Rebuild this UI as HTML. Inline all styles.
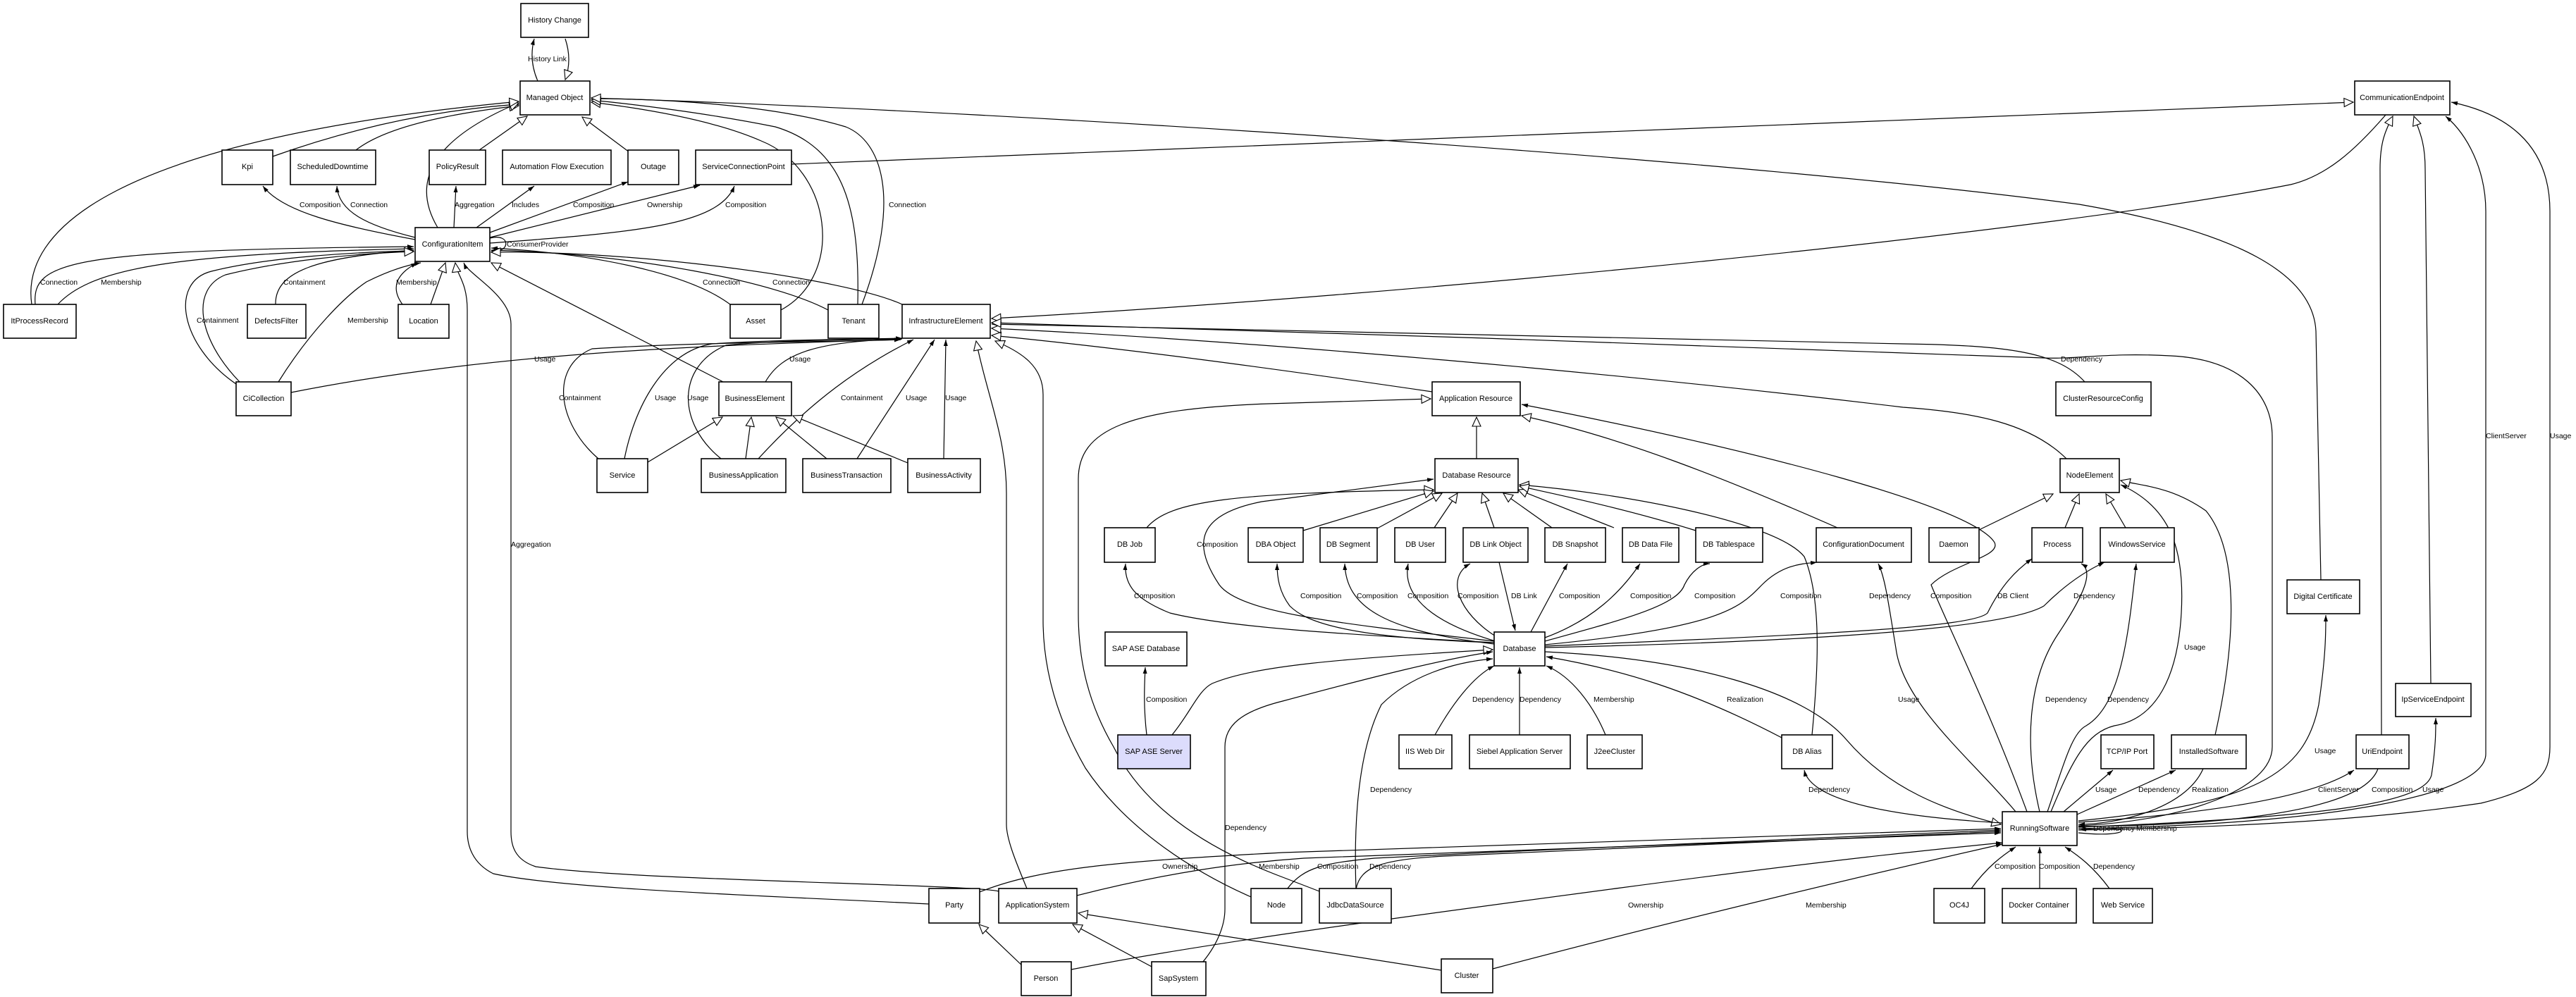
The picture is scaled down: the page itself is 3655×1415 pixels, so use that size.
<!DOCTYPE html>
<html><head><meta charset="utf-8"><style>
html,body{margin:0;padding:0;background:#fff}
svg{display:block}
.n rect{fill:#fff;stroke:#000;stroke-width:1.6}
.n text{font-family:"Liberation Sans",sans-serif;font-size:11px;text-anchor:middle;dominant-baseline:central}
.e path{fill:none;stroke:#000;stroke-width:1.2}
.l text{font-family:"Liberation Sans",sans-serif;font-size:10.5px;dominant-baseline:central}
</style></head><body>
<svg width="3655" height="1415" viewBox="0 0 3655 1415" xmlns="http://www.w3.org/2000/svg">
<defs>
<marker id="f" markerWidth="10" markerHeight="8" refX="9" refY="4" orient="auto" markerUnits="userSpaceOnUse"><path d="M0,1 L9,4 L0,7 z" fill="#000"/></marker>
<marker id="h" markerWidth="16" markerHeight="14" refX="14" refY="7" orient="auto" markerUnits="userSpaceOnUse"><path d="M1,1 L14,7 L1,13 z" fill="#fff" stroke="#000" stroke-width="1.1"/></marker>
</defs>
<g class="e">
<path d="M763 115 Q750 85 758 55" marker-end="url(#f)"/>
<path d="M802 55 Q812 85 802 113" marker-end="url(#h)"/>
<path d="M387 222 Q560 160 736 148" marker-end="url(#h)"/>
<path d="M505 213 Q560 170 736 150" marker-end="url(#h)"/>
<path d="M680 213 L748 165" marker-end="url(#h)"/>
<path d="M893 216 L826 166" marker-end="url(#h)"/>
<path d="M621 323 Q560 220 736 146" marker-end="url(#h)"/>
<path d="M45 432 C30 330 150 200 736 144" marker-end="url(#h)"/>
<path d="M589 340 C480 320 400 300 373 264" marker-end="url(#f)"/>
<path d="M589 337 C520 320 480 300 478 264" marker-end="url(#f)"/>
<path d="M644 323 L647 264" marker-end="url(#f)"/>
<path d="M676 323 L758 264" marker-end="url(#f)"/>
<path d="M695 330 L891 258" marker-end="url(#f)"/>
<path d="M695 337 L993 263" marker-end="url(#f)"/>
<path d="M695 345 C900 330 1020 320 1042 264" marker-end="url(#f)"/>
<path d="M695 338 C725 330 725 360 697 356" marker-end="url(#f)"/>
<path d="M1036 432 C980 390 850 360 697 352" marker-end="url(#f)"/>
<path d="M1175 440 C1100 400 900 360 697 355" marker-end="url(#f)"/>
<path d="M1280 432 C1200 395 900 355 697 358" marker-end="url(#h)"/>
<path d="M1108 440 C1200 390 1180 240 1080 200 C1000 165 880 150 839 145" marker-end="url(#h)"/>
<path d="M1217 432 C1220 300 1200 210 1100 180 C1000 160 900 148 839 142" marker-end="url(#h)"/>
<path d="M1223 432 C1280 280 1250 200 1200 180 C1100 150 950 140 839 140" marker-end="url(#f)"/>
<path d="M3293 823 L3286 470 C3282 390 3180 330 2950 290 C2500 230 1500 160 839 139" marker-end="url(#h)"/>
<path d="M1123 233 L3339 145" marker-end="url(#h)"/>
<path d="M50 432 C45 370 100 355 587 350" marker-end="url(#f)"/>
<path d="M82 432 C130 380 250 360 587 353" marker-end="url(#f)"/>
<path d="M391 432 C390 385 450 365 587 355" marker-end="url(#f)"/>
<path d="M335 545 C255 490 240 400 300 385 C380 365 500 358 587 356" marker-end="url(#f)"/>
<path d="M340 542 C280 480 270 410 320 390 C400 370 500 360 587 357" marker-end="url(#h)"/>
<path d="M395 542 C440 470 490 420 520 400 C560 380 585 375 597 373" marker-end="url(#f)"/>
<path d="M571 432 C555 410 560 390 592 373" marker-end="url(#f)"/>
<path d="M611 432 L632 373" marker-end="url(#h)"/>
<path d="M1318 1283 C1100 1272 800 1262 700 1240 C670 1225 663 1200 663 1180 L663 440 C663 400 648 390 646 373" marker-end="url(#h)"/>
<path d="M1417 1265 C1380 1255 900 1250 760 1230 C730 1220 725 1200 725 1180 L725 460 C725 420 665 390 658 373" marker-end="url(#f)"/>
<path d="M1026 542 L697 373" marker-end="url(#h)"/>
<path d="M413 557 C700 500 1000 490 1278 482" marker-end="url(#f)"/>
<path d="M849 651 C790 600 780 520 840 495 C1000 485 1200 485 1278 482" marker-end="url(#f)"/>
<path d="M886 651 C900 580 940 500 1010 488 C1100 482 1200 482 1280 480" marker-end="url(#f)"/>
<path d="M1023 651 C960 600 960 520 1030 490 C1100 483 1200 482 1280 481" marker-end="url(#f)"/>
<path d="M1086 542 C1110 500 1160 485 1280 481" marker-end="url(#f)"/>
<path d="M1076 651 C1150 570 1220 520 1296 482" marker-end="url(#f)"/>
<path d="M1216 651 L1326 482" marker-end="url(#f)"/>
<path d="M1339 651 L1342 482" marker-end="url(#f)"/>
<path d="M919 656 L1025 592" marker-end="url(#h)"/>
<path d="M1058 651 L1066 592" marker-end="url(#h)"/>
<path d="M1173 651 L1101 592" marker-end="url(#h)"/>
<path d="M1288 657 L1125 590" marker-end="url(#h)"/>
<path d="M1457 1261 C1440 1220 1428 1190 1428 1170 L1428 700 C1428 620 1400 560 1385 484" marker-end="url(#h)"/>
<path d="M1775 1273 C1700 1240 1600 1180 1540 1090 C1500 1020 1480 950 1480 880 L1480 560 C1480 520 1450 500 1412 484" marker-end="url(#h)"/>
<path d="M1872 1265 L1820 1245 C1700 1200 1620 1140 1580 1060 C1545 1000 1530 940 1530 870 L1530 680 C1530 610 1600 580 1800 573 L2030 566" marker-end="url(#h)"/>
<path d="M2032 556 C1800 522 1600 495 1407 476" marker-end="url(#h)"/>
<path d="M2958 542 C2920 500 2850 490 2700 488 C2300 480 1800 468 1407 460" marker-end="url(#f)"/>
<path d="M2932 651 C2880 600 2800 585 2700 578 C2300 530 1800 485 1407 466" marker-end="url(#h)"/>
<path d="M3385 163 C3340 215 3300 250 3250 262 C2900 330 2000 420 1407 452" marker-end="url(#h)"/>
<path d="M2949 1172 C3100 1165 3224 1120 3224 1060 L3224 620 C3224 560 3180 510 3080 505 C2990 500 2950 510 2900 508 C2600 495 1800 470 1407 458" marker-end="url(#h)"/>
<path d="M2095 651 L2095 592" marker-end="url(#h)"/>
<path d="M2876 1152 C2820 1000 2760 880 2740 830 C2770 800 2840 790 2830 770 C2800 720 2500 640 2159 574" marker-end="url(#f)"/>
<path d="M2607 749 C2450 680 2300 620 2159 590" marker-end="url(#h)"/>
<path d="M2571 1043 C2580 950 2585 850 2560 790 C2520 740 2300 700 2156 688" marker-end="url(#h)"/>
<path d="M1627 749 C1660 710 1750 700 2034 695" marker-end="url(#h)"/>
<path d="M2120 910 C1900 885 1760 870 1730 830 C1690 770 1700 730 1790 712 L2034 680" marker-end="url(#f)"/>
<path d="M1849 753 L2034 697" marker-end="url(#h)"/>
<path d="M1954 750 L2046 700" marker-end="url(#h)"/>
<path d="M2035 749 L2068 700" marker-end="url(#h)"/>
<path d="M2120 749 L2103 700" marker-end="url(#h)"/>
<path d="M2202 749 L2133 700" marker-end="url(#h)"/>
<path d="M2290 749 L2154 695" marker-end="url(#h)"/>
<path d="M2406 753 C2300 720 2200 700 2156 690" marker-end="url(#h)"/>
<path d="M2120 912 C1900 900 1740 890 1660 870 C1610 850 1595 830 1597 800" marker-end="url(#f)"/>
<path d="M2120 912 C1900 905 1850 880 1830 860 C1815 840 1812 820 1812 800" marker-end="url(#f)"/>
<path d="M2120 914 C1960 895 1910 860 1908 800" marker-end="url(#f)"/>
<path d="M2122 910 C2020 880 1990 840 1998 800" marker-end="url(#f)"/>
<path d="M2127 798 L2150 895" marker-end="url(#f)"/>
<path d="M2122 903 C2070 870 2050 820 2086 800" marker-end="url(#f)"/>
<path d="M2172 897 L2224 800" marker-end="url(#f)"/>
<path d="M2192 905 C2260 880 2300 840 2327 800" marker-end="url(#f)"/>
<path d="M2192 910 C2300 880 2380 860 2390 830 C2400 810 2415 800 2426 800" marker-end="url(#f)"/>
<path d="M2192 915 C2450 890 2470 860 2500 830 C2530 800 2560 800 2578 798" marker-end="url(#f)"/>
<path d="M2192 917 C2600 900 2800 890 2820 870 C2840 830 2860 810 2883 793" marker-end="url(#f)"/>
<path d="M2192 919 C2600 910 2850 890 2900 860 C2930 830 2960 810 2986 798" marker-end="url(#f)"/>
<path d="M2808 752 L2913 701" marker-end="url(#h)"/>
<path d="M2930 749 L2950 701" marker-end="url(#h)"/>
<path d="M3016 749 L2988 701" marker-end="url(#h)"/>
<path d="M2894 1152 C2870 1050 2880 960 2920 900 C2960 840 2970 810 2953 800" marker-end="url(#f)"/>
<path d="M2905 1152 C2930 1080 2940 1040 2960 1030 C3010 1000 3020 900 3031 800" marker-end="url(#f)"/>
<path d="M2910 1152 C2940 1080 2960 1040 3000 1030 C3060 1020 3090 960 3095 870 C3100 780 3080 720 3009 688" marker-end="url(#f)"/>
<path d="M3143 1043 C3175 900 3175 780 3130 725 C3080 690 3040 690 3009 682" marker-end="url(#h)"/>
<path d="M2928 1152 L2998 1093" marker-end="url(#f)"/>
<path d="M2947 1156 L3087 1093" marker-end="url(#f)"/>
<path d="M3126 1091 C3100 1150 3000 1170 2949 1170" marker-end="url(#f)"/>
<path d="M2949 1165 C3200 1140 3270 1100 3290 1000 C3300 930 3300 900 3300 873" marker-end="url(#f)"/>
<path d="M2949 1167 C3200 1150 3300 1120 3340 1093" marker-end="url(#f)"/>
<path d="M3374 1091 C3350 1160 3100 1172 2949 1173" marker-end="url(#f)"/>
<path d="M2949 1174 C3300 1160 3440 1140 3450 1100 C3456 1060 3456 1040 3456 1019" marker-end="url(#f)"/>
<path d="M3379 1043 L3377 240 C3377 200 3385 185 3395 165" marker-end="url(#h)"/>
<path d="M3449 970 L3441 240 C3441 200 3432 185 3425 165" marker-end="url(#h)"/>
<path d="M2949 1176 C3300 1170 3527 1130 3527 1070 L3527 300 C3527 240 3500 190 3470 165" marker-end="url(#f)"/>
<path d="M2949 1178 C3300 1172 3450 1150 3520 1140 C3600 1120 3618 1100 3618 1060 L3618 300 C3618 200 3550 160 3478 145" marker-end="url(#f)"/>
<path d="M2949 1182 C3030 1190 3030 1168 2951 1178" marker-end="url(#f)"/>
<path d="M2192 925 C2400 935 2560 980 2620 1050 C2680 1120 2760 1150 2839 1170" marker-end="url(#h)"/>
<path d="M2860 1152 C2800 1080 2700 1000 2690 920 C2680 860 2675 820 2665 800" marker-end="url(#f)"/>
<path d="M2841 1168 C2700 1160 2570 1140 2560 1093" marker-end="url(#f)"/>
<path d="M2528 1047 C2400 980 2300 950 2194 932" marker-end="url(#f)"/>
<path d="M2036 1043 C2060 1000 2090 960 2120 945" marker-end="url(#f)"/>
<path d="M2156 1043 L2156 947" marker-end="url(#f)"/>
<path d="M2278 1043 C2260 1000 2230 960 2194 945" marker-end="url(#f)"/>
<path d="M1627 1043 C1622 1000 1624 970 1625 947" marker-end="url(#f)"/>
<path d="M1663 1043 C1690 1010 1700 980 1720 970 C1780 945 1900 935 2118 922" marker-end="url(#h)"/>
<path d="M1700 1373 C1730 1340 1738 1310 1738 1290 L1738 1060 C1738 1030 1760 1010 1820 995 C1950 960 2050 935 2118 925" marker-end="url(#f)"/>
<path d="M1924 1262 C1920 1150 1930 1060 1960 1000 C2000 960 2060 940 2118 935" marker-end="url(#f)"/>
<path d="M1924 1262 C1930 1230 1960 1220 2050 1215 C2400 1200 2700 1185 2839 1180" marker-end="url(#f)"/>
<path d="M1826 1262 C1850 1230 1880 1225 1950 1218 C2300 1200 2700 1183 2839 1178" marker-end="url(#f)"/>
<path d="M1390 1266 C1480 1230 1600 1222 1820 1210 C2300 1195 2600 1185 2839 1176" marker-end="url(#f)"/>
<path d="M1528 1271 C1650 1240 1750 1225 1850 1218 C2300 1200 2600 1188 2839 1182" marker-end="url(#f)"/>
<path d="M1520 1376 C1700 1340 2000 1300 2300 1260 C2600 1220 2750 1205 2841 1196" marker-end="url(#f)"/>
<path d="M2118 1375 C2400 1300 2700 1230 2841 1198" marker-end="url(#f)"/>
<path d="M2045 1377 L1530 1296" marker-end="url(#h)"/>
<path d="M1453 1373 L1389 1312" marker-end="url(#h)"/>
<path d="M1636 1373 L1522 1312" marker-end="url(#h)"/>
<path d="M2797 1261 C2820 1230 2840 1215 2860 1202" marker-end="url(#f)"/>
<path d="M2894 1261 L2894 1202" marker-end="url(#f)"/>
<path d="M2993 1261 C2970 1230 2950 1215 2930 1202" marker-end="url(#f)"/>
</g>
<g class="l">
<text x="749" y="84">History Link</text>
<text x="425" y="291">Composition</text><text x="497" y="291">Connection</text><text x="645" y="291">Aggregation</text><text x="726" y="291">Includes</text><text x="813" y="291">Composition</text><text x="918" y="291">Ownership</text><text x="1029" y="291">Composition</text><text x="1261" y="291">Connection</text>
<text x="719" y="347">ConsumerProvider</text>
<text x="57" y="401">Connection</text><text x="143" y="401">Membership</text><text x="402" y="401">Containment</text><text x="562" y="401">Membership</text><text x="997" y="401">Connection</text><text x="1096" y="401">Connection</text>
<text x="279" y="455">Containment</text><text x="493" y="455">Membership</text>
<text x="758" y="510">Usage</text><text x="1120" y="510">Usage</text><text x="2924" y="510">Dependency</text>
<text x="793" y="565">Containment</text><text x="929" y="565">Usage</text><text x="975" y="565">Usage</text><text x="1193" y="565">Containment</text><text x="1285" y="565">Usage</text><text x="1341" y="565">Usage</text>
<text x="3527" y="619">ClientServer</text><text x="3618" y="619">Usage</text>
<text x="725" y="773">Aggregation</text><text x="1698" y="773">Composition</text>
<text x="1609" y="846">Composition</text><text x="1845" y="846">Composition</text><text x="1925" y="846">Composition</text><text x="1997" y="846">Composition</text><text x="2068" y="846">Composition</text><text x="2144" y="846">DB Link</text><text x="2212" y="846">Composition</text><text x="2313" y="846">Composition</text><text x="2404" y="846">Composition</text><text x="2526" y="846">Composition</text><text x="2652" y="846">Dependency</text><text x="2739" y="846">Composition</text><text x="2834" y="846">DB Client</text><text x="2942" y="846">Dependency</text>
<text x="3099" y="919">Usage</text>
<text x="1626" y="993">Composition</text><text x="2089" y="993">Dependency</text><text x="2156" y="993">Dependency</text><text x="2261" y="993">Membership</text><text x="2450" y="993">Realization</text><text x="2693" y="993">Usage</text><text x="2902" y="993">Dependency</text><text x="2990" y="993">Dependency</text>
<text x="3284" y="1066">Usage</text>
<text x="1944" y="1121">Dependency</text><text x="2566" y="1121">Dependency</text><text x="2973" y="1121">Usage</text><text x="3034" y="1121">Dependency</text><text x="3110" y="1121">Realization</text><text x="3289" y="1121">ClientServer</text><text x="3365" y="1121">Composition</text><text x="3437" y="1121">Usage</text>
<text x="1738" y="1175">Dependency</text><text x="2970" y="1176">Dependency</text><text x="3031" y="1176">Membership</text>
<text x="1649" y="1230">Ownership</text><text x="1786" y="1230">Membership</text><text x="1869" y="1230">Composition</text><text x="1943" y="1230">Dependency</text><text x="2830" y="1230">Composition</text><text x="2893" y="1230">Composition</text><text x="2970" y="1230">Dependency</text>
<text x="2310" y="1285">Ownership</text><text x="2562" y="1285">Membership</text>
</g>
<g class="n">
<rect x="739" y="5" width="96" height="48"/><text x="787" y="29">History Change</text>
<rect x="738" y="115" width="99" height="48"/><text x="787" y="139">Managed Object</text>
<rect x="3341" y="115" width="135" height="48"/><text x="3408" y="139">CommunicationEndpoint</text>
<rect x="315" y="213" width="72" height="49"/><text x="351" y="237">Kpi</text>
<rect x="412" y="213" width="121" height="49"/><text x="472" y="237">ScheduledDowntime</text>
<rect x="609" y="213" width="80" height="49"/><text x="649" y="237">PolicyResult</text>
<rect x="713" y="213" width="154" height="49"/><text x="790" y="237">Automation Flow Execution</text>
<rect x="891" y="213" width="72" height="49"/><text x="927" y="237">Outage</text>
<rect x="987" y="213" width="136" height="49"/><text x="1055" y="237">ServiceConnectionPoint</text>
<rect x="589" y="323" width="106" height="48"/><text x="642" y="347">ConfigurationItem</text>
<rect x="5" y="432" width="103" height="48"/><text x="56" y="456">ItProcessRecord</text>
<rect x="351" y="432" width="83" height="48"/><text x="392" y="456">DefectsFilter</text>
<rect x="565" y="432" width="72" height="48"/><text x="601" y="456">Location</text>
<rect x="1036" y="432" width="72" height="48"/><text x="1072" y="456">Asset</text>
<rect x="1175" y="432" width="72" height="48"/><text x="1211" y="456">Tenant</text>
<rect x="1280" y="432" width="125" height="48"/><text x="1342" y="456">InfrastructureElement</text>
<rect x="335" y="542" width="78" height="48"/><text x="374" y="566">CiCollection</text>
<rect x="1020" y="542" width="103" height="48"/><text x="1071" y="566">BusinessElement</text>
<rect x="2032" y="542" width="125" height="48"/><text x="2094" y="566">Application Resource</text>
<rect x="2917" y="542" width="135" height="48"/><text x="2984" y="566">ClusterResourceConfig</text>
<rect x="847" y="651" width="72" height="48"/><text x="883" y="675">Service</text>
<rect x="995" y="651" width="120" height="48"/><text x="1055" y="675">BusinessApplication</text>
<rect x="1139" y="651" width="125" height="48"/><text x="1201" y="675">BusinessTransaction</text>
<rect x="1288" y="651" width="103" height="48"/><text x="1339" y="675">BusinessActivity</text>
<rect x="2036" y="651" width="118" height="48"/><text x="2095" y="675">Database Resource</text>
<rect x="2923" y="651" width="84" height="48"/><text x="2965" y="675">NodeElement</text>
<rect x="1567" y="749" width="72" height="49"/><text x="1603" y="773">DB Job</text>
<rect x="1771" y="749" width="78" height="49"/><text x="1810" y="773">DBA Object</text>
<rect x="1873" y="749" width="81" height="49"/><text x="1913" y="773">DB Segment</text>
<rect x="1979" y="749" width="72" height="49"/><text x="2015" y="773">DB User</text>
<rect x="2076" y="749" width="92" height="49"/><text x="2122" y="773">DB Link Object</text>
<rect x="2192" y="749" width="86" height="49"/><text x="2235" y="773">DB Snapshot</text>
<rect x="2302" y="749" width="80" height="49"/><text x="2342" y="773">DB Data File</text>
<rect x="2406" y="749" width="95" height="49"/><text x="2453" y="773">DB Tablespace</text>
<rect x="2577" y="749" width="135" height="49"/><text x="2644" y="773">ConfigurationDocument</text>
<rect x="2737" y="749" width="71" height="49"/><text x="2772" y="773">Daemon</text>
<rect x="2883" y="749" width="72" height="49"/><text x="2919" y="773">Process</text>
<rect x="2980" y="749" width="105" height="49"/><text x="3032" y="773">WindowsService</text>
<rect x="3245" y="823" width="103" height="48"/><text x="3296" y="847">Digital Certificate</text>
<rect x="1568" y="897" width="116" height="48"/><text x="1626" y="921">SAP ASE Database</text>
<rect x="2120" y="897" width="72" height="48"/><text x="2156" y="921">Database</text>
<rect x="3399" y="970" width="107" height="47"/><text x="3452" y="993">IpServiceEndpoint</text>
<rect x="1586" y="1043" width="103" height="48" style="fill:#dcdcfc"/><text x="1637" y="1067">SAP ASE Server</text>
<rect x="1985" y="1043" width="75" height="48"/><text x="2022" y="1067">IIS Web Dir</text>
<rect x="2085" y="1043" width="143" height="48"/><text x="2156" y="1067">Siebel Application Server</text>
<rect x="2252" y="1043" width="78" height="48"/><text x="2291" y="1067">J2eeCluster</text>
<rect x="2528" y="1043" width="72" height="48"/><text x="2564" y="1067">DB Alias</text>
<rect x="2981" y="1043" width="75" height="48"/><text x="3018" y="1067">TCP/IP Port</text>
<rect x="3081" y="1043" width="106" height="48"/><text x="3134" y="1067">InstalledSoftware</text>
<rect x="3343" y="1043" width="75" height="48"/><text x="3380" y="1067">UriEndpoint</text>
<rect x="2841" y="1152" width="106" height="48"/><text x="2894" y="1176">RunningSoftware</text>
<rect x="1318" y="1261" width="72" height="49"/><text x="1354" y="1285">Party</text>
<rect x="1417" y="1261" width="111" height="49"/><text x="1472" y="1285">ApplicationSystem</text>
<rect x="1775" y="1261" width="72" height="49"/><text x="1811" y="1285">Node</text>
<rect x="1872" y="1261" width="102" height="49"/><text x="1923" y="1285">JdbcDataSource</text>
<rect x="2744" y="1261" width="72" height="49"/><text x="2780" y="1285">OC4J</text>
<rect x="2841" y="1261" width="105" height="49"/><text x="2893" y="1285">Docker Container</text>
<rect x="2970" y="1261" width="84" height="49"/><text x="3012" y="1285">Web Service</text>
<rect x="1449" y="1365" width="71" height="48"/><text x="1484" y="1389">Person</text>
<rect x="1634" y="1365" width="77" height="48"/><text x="1672" y="1389">SapSystem</text>
<rect x="2045" y="1361" width="73" height="48"/><text x="2081" y="1385">Cluster</text>
</g>
</svg>
</body></html>
